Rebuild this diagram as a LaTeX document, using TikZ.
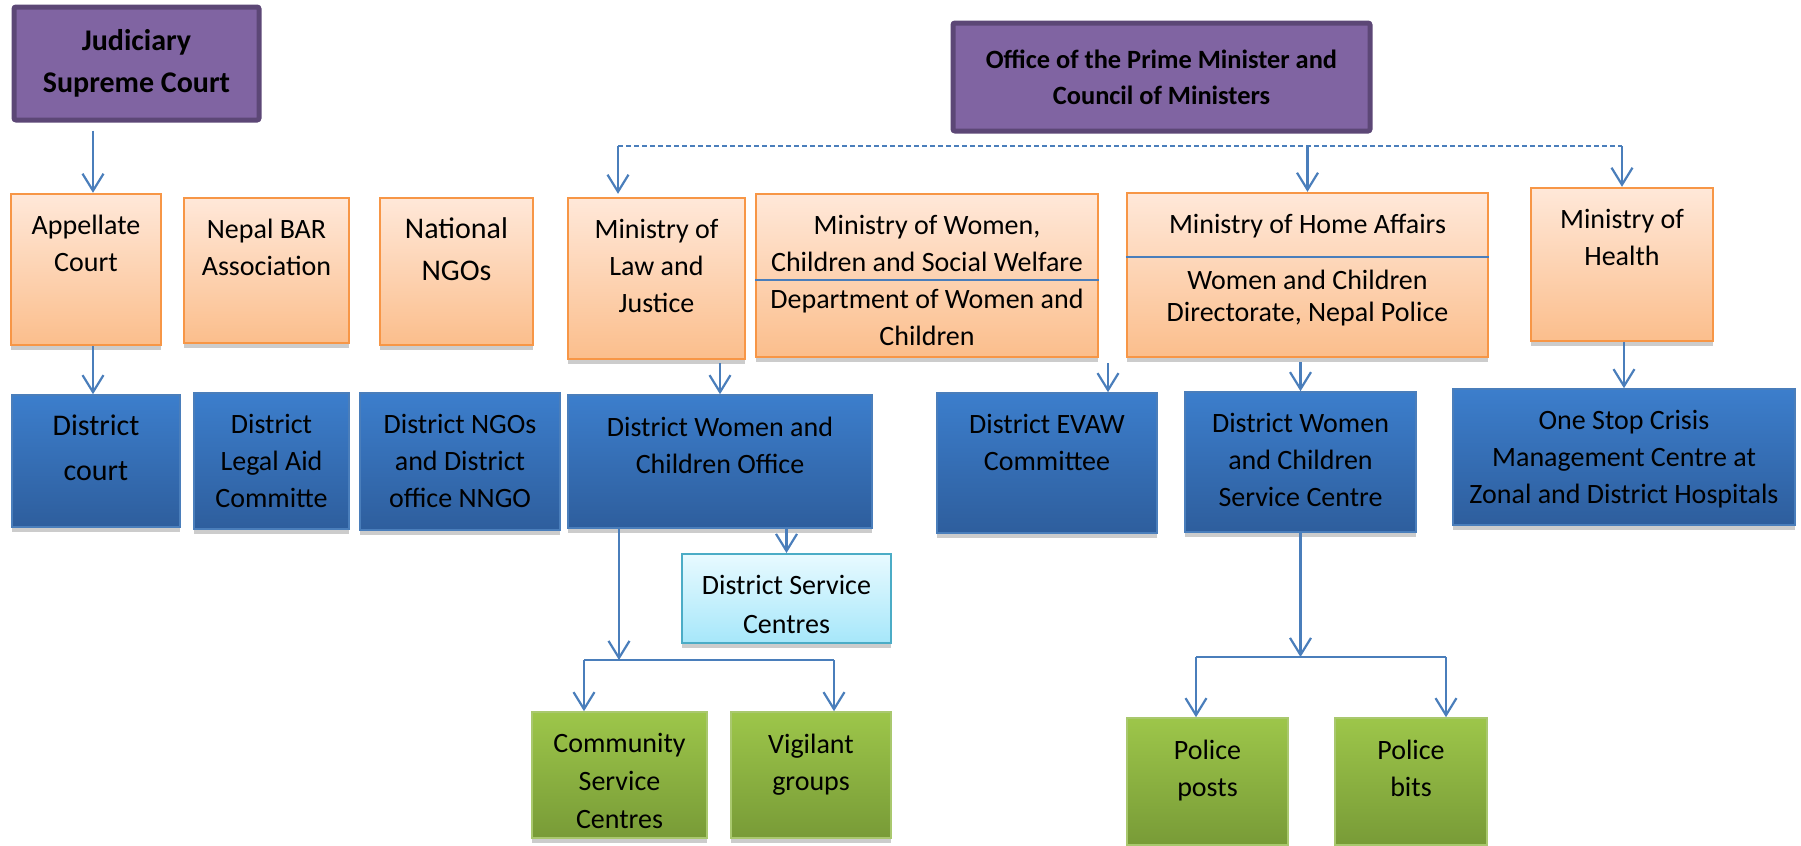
\documentclass[tikz,border=0pt]{standalone}
\usepackage{fontspec}
\setmainfont{Carlito}
\usetikzlibrary{positioning,arrows.meta,shadows}
\definecolor{purp}{HTML}{8064A2}
\definecolor{purpline}{HTML}{5C4776}
\definecolor{orline}{HTML}{F79646}
\definecolor{ortop}{HTML}{FFE8D9}
\definecolor{orbot}{HTML}{FBBE8C}
\definecolor{bltop}{HTML}{3C7ECC}
\definecolor{blbot}{HTML}{2E5E9D}
\definecolor{blline}{HTML}{4A7EBB}
\definecolor{cytop}{HTML}{E8FAFF}
\definecolor{cybot}{HTML}{A6E7FA}
\definecolor{cyline}{HTML}{4BACC6}
\definecolor{grtop}{HTML}{9DC64A}
\definecolor{grbot}{HTML}{789B37}
\definecolor{grline}{HTML}{A9C86E}
\definecolor{arrcol}{HTML}{4A7EBB}

\begin{document}
\begin{tikzpicture}[x=0.5pt, y=-0.5pt,
    wh/.style 2 args={minimum width=#1*0.5pt, minimum height=#2*0.5pt},
    shad/.style={drop shadow={shadow xshift=0pt, shadow yshift=-2.5pt, opacity=0.2, fill=black}},
    head/.style={draw=purpline, line width=2.5pt, fill=purp, rounded corners=1pt, align=center, inner sep=0pt},
    orbox/.style={draw=orline, line width=1.2pt, top color=ortop, bottom color=orbot, shad, inner sep=0pt},
    blbox/.style={draw=blline, line width=0.8pt, top color=bltop, bottom color=blbot, shad, inner sep=0pt},
    cybox/.style={draw=cyline, line width=1pt, top color=cytop, bottom color=cybot, shad, inner sep=0pt},
    grbox/.style={draw=grline, line width=0.8pt, top color=grtop, bottom color=grbot, shad, inner sep=0pt},
    txt/.style={align=center, inner sep=0pt, anchor=north, yshift=-11pt, font=\fontsize{14}{18.5}\selectfont},
    bigtxt/.style={align=center, inner sep=0pt, anchor=north, yshift=-10pt, font=\fontsize{15}{21}\selectfont},
    arr/.style={draw=arrcol, line width=1.1pt, -{Straight Barb[length=8.5pt,width=10.5pt]}},
    link/.style={draw=arrcol, line width=1.1pt},
    dashlink/.style={draw=arrcol, line width=0.8pt, dash pattern=on 2.5pt off 1.5pt},
    divider/.style={draw=blline, line width=1pt}]
    \useasboundingbox (0,0) rectangle (1801,846);

    % Draw the two heads
    \node[head, wh={245}{113}, font=\fontsize{15}{21}\bfseries\selectfont] (jud) at (136.5,63.5) {Judiciary\\Supreme Court};
    \node[head, wh={417}{108}, font=\fontsize{13.2}{18}\bfseries\selectfont] (opm) at (1161.5,77) {Office of the Prime Minister and\\Council of Ministers};

    % Draw ministries and national bodies
    \node[orbox, wh={150}{151}, label={[txt]north:{Appellate\\Court}}] (appel) at (86,269.5) {};
    \node[orbox, wh={165}{145}, label={[txt]north:{Nepal BAR\\Association}}] (bar) at (266.5,270.5) {};
    \node[orbox, wh={153}{147}, label={[bigtxt]north:{National\\NGOs}}] (ngo) at (456.5,271.5) {};
    \node[orbox, wh={177}{161}, label={[txt]north:{Ministry of\\Law and\\Justice}}] (law) at (656.5,278.5) {};
    \node[orbox, wh={342}{163}, label={[txt]north:{Ministry of Women,\\Children and Social Welfare\\Department of Women and\\Children}}] (women) at (927,275.5) {};
    \node[orbox, wh={361}{164}, label={[txt]north:{Ministry of Home Affairs}},
        label={[txt, yshift=-27.7pt, font=\fontsize{14}{16}\selectfont]north:{Women and Children\\Directorate, Nepal Police}}] (home) at (1307.5,275) {};
    \node[orbox, wh={182}{153}, label={[txt]north:{Ministry of\\Health}}] (health) at (1622,264.5) {};

    % Draw district offices
    \node[blbox, wh={168}{132}, label={[bigtxt, font=\fontsize{15}{22.5}\selectfont]north:{District\\court}}] (court) at (96,461) {};
    \node[blbox, wh={155}{136}, label={[txt]north:{District\\Legal Aid\\Committe}}] (legal) at (271.5,461) {};
    \node[blbox, wh={200}{137}, label={[txt]north:{District NGOs\\and District\\office NNGO}}] (dngo) at (460,461.5) {};
    \node[blbox, wh={304}{133}, label={[txt]north:{District Women and\\Children Office}}] (dwco) at (720,461.5) {};
    \node[blbox, wh={220}{140}, label={[txt]north:{District EVAW\\Committee}}] (evaw) at (1047,463) {};
    \node[blbox, wh={231}{140}, label={[txt]north:{District Women\\and Children\\Service Centre}}] (dwcsc) at (1300.5,462) {};
    \node[blbox, wh={342}{136}, label={[txt]north:{One Stop Crisis\\Management Centre at\\Zonal and District Hospitals}}] (onestop) at (1624,457) {};

    % Draw local units
    \node[cybox, wh={209}{89}, label={[txt, font=\fontsize{14}{19.5}\selectfont]north:{District Service\\Centres}}] (dsc) at (786.5,598.5) {};
    \node[grbox, wh={175}{126}, label={[txt, font=\fontsize{14}{19}\selectfont]north:{Community\\Service\\Centres}}] (community) at (619.5,775) {};
    \node[grbox, wh={160}{126}, label={[txt]north:{Vigilant\\groups}}] (vigilant) at (811,775) {};
    \node[grbox, wh={161}{127}, label={[txt]north:{Police\\posts}}] (posts) at (1207.5,781.5) {};
    \node[grbox, wh={152}{127}, label={[txt]north:{Police\\bits}}] (bits) at (1411,781.5) {};

    % Dividers inside the ministry boxes
    \coordinate (wsep) at (0,280);
    \coordinate (hsep) at (0,257);
    \draw[divider] (women.west |- wsep) -- (women.east |- wsep);
    \draw[divider] (home.west |- hsep) -- (home.east |- hsep);

    % Judiciary line
    \coordinate (jx) at (93,0);
    \draw[arr] ([yshift=-4pt]jud.south -| jx) -- (appel.north -| jx);
    \draw[arr] (appel.south -| jx) -- (court.north -| jx);

    % Dashed bus from the Prime Minister's office
    \coordinate (busl) at (618,146);
    \draw[dashlink] (busl) -- (busl -| health.north);
    \draw[arr] (busl) -- ([yshift=1.5pt]law.north -| busl);
    \draw[arr] (home.north |- busl) -- (home.north);
    \draw[arr] (health.north |- busl) -- (health.north);

    % Ministries to districts
    \coordinate (ex) at (1108,0);
    \draw[arr] ([yshift=-1.5pt]law.south -| dwco.north) -- (dwco.north);
    \draw[arr] ([yshift=-2.5pt]women.south -| ex) -- (evaw.north -| ex);
    \draw[arr] ([yshift=-2pt]home.south -| dwcsc.north) -- (dwcsc.north);
    \draw[arr] (health.south -| onestop.north) -- (onestop.north);

    % Districts to local units
    \draw[arr] (dwco.south -| dsc.north) -- (dsc.north);
    \coordinate (wl) at (584,660);
    \coordinate (wr) at (834,660);
    \coordinate (wx) at (619,0);
    \draw[arr] (dwco.south -| wx) -- (wl -| wx);
    \draw[link] (wl) -- (wr);
    \draw[arr] (wl) -- (community.north -| wl);
    \draw[arr] (wr) -- (vigilant.north -| wr);

    \coordinate (pl) at (1196,657);
    \coordinate (pr) at (1446,657);
    \draw[arr] (dwcsc.south) -- (dwcsc.south |- pl);
    \draw[link] (pl) -- (pr);
    \draw[arr] (pl) -- (posts.north -| pl);
    \draw[arr] (pr) -- (bits.north -| pr);
\end{tikzpicture}
\end{document}
